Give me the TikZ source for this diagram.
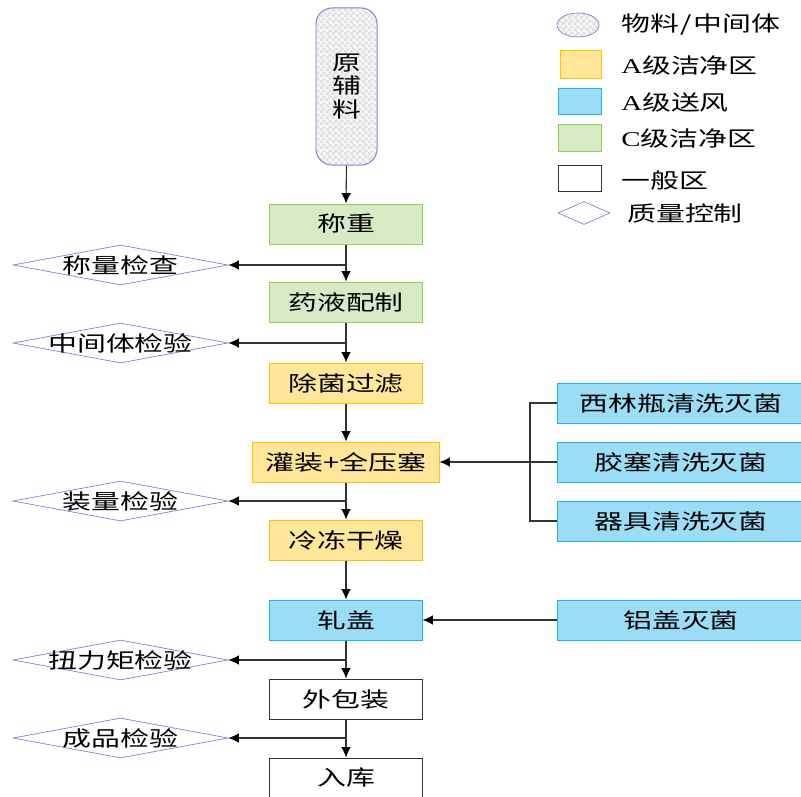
\documentclass[tikz,border=0pt]{standalone}
\usepackage{fontspec}
\setmainfont[FakeStretch=1.37]{Liberation Serif}
\newfontfamily\cjk[FakeStretch=1.37]{Noto Sans CJK SC}
\usetikzlibrary{arrows.meta,shapes.geometric,patterns}
\pgfdeclarepatternformonly{smallcheck}{\pgfpointorigin}{\pgfpoint{4pt}{4pt}}{\pgfpoint{4pt}{4pt}}{%
  \pgfpathrectangle{\pgfpointorigin}{\pgfpoint{2pt}{2pt}}%
  \pgfpathrectangle{\pgfpoint{2pt}{2pt}}{\pgfpoint{2pt}{2pt}}%
  \pgfusepath{fill}}
\definecolor{gF}{HTML}{D6EAC5}\definecolor{gB}{HTML}{92D050}
\definecolor{yF}{HTML}{FFE699}\definecolor{yB}{HTML}{FFC000}
\definecolor{bF}{HTML}{9BDDF6}\definecolor{bB}{HTML}{1CB5EC}
\definecolor{qc}{HTML}{8080E0}
\newcommand{\lat}{\rmfamily}
\newcommand{\dtext}[1]{\raisebox{-0.38em}[0pt][0pt]{#1}}
\begin{document}
\begin{tikzpicture}[x=0.025cm,y=-0.025cm,
  every node/.style={font=\cjk\fontsize{15}{17}\selectfont},
  box/.style={draw, rectangle, minimum width=3.8cm, minimum height=1cm, inner sep=0pt, line width=0.7pt},
  gbox/.style={box, fill=gF, draw=gB},
  ybox/.style={box, fill=yF, draw=yB},
  bbox/.style={box, fill=bF, draw=bB},
  wbox/.style={box, fill=white, draw=black!80},
  qbox/.style={diamond, draw=qc, line width=0.5pt, inner sep=0pt, shape aspect=5.375, minimum width=5.375cm, minimum height=1cm},
  conn/.style={draw=black!80, line width=0.8pt},
  arr/.style={conn, -{Latex[length=2.6mm,width=2.4mm,fill=black,color=black]}}
]
\useasboundingbox (0,0) rectangle (801,796);
\clip (0,0) rectangle (801,796);

% raw material
\node[draw=qc, line width=0.7pt, rounded corners=0.4cm, minimum width=1.525cm, minimum height=3.925cm,
  preaction={fill=gray!8}, pattern=smallcheck, pattern color=gray!25, align=center, inner sep=0pt]
  (raw) at (346.5,86.5) {原\\[-0.5pt]辅\\[-0.5pt]料};

% main column
\node[gbox] (s1) at (346,224) {称重};
\node[gbox] (s2) at (346,302) {药液配制};
\node[ybox] (s3) at (346,383) {除菌过滤};
\node[ybox, minimum width=4.65cm] (s4) at (346,462) {灌装+全压塞};
\node[ybox] (s5) at (346,540) {冷冻干燥};
\node[bbox] (s6) at (346,620) {轧盖};
\node[wbox] (s7) at (346,699) {外包装};
\node[wbox] (s8) at (346,778) {入库};

% quality control diamonds
\node[qbox] (d1) at (120.5,265) {\dtext{称量检查}};
\node[qbox] (d2) at (120.5,343) {\dtext{中间体检验}};
\node[qbox] (d3) at (120.5,501) {\dtext{装量检验}};
\node[qbox] (d4) at (120.5,660) {\dtext{扭力矩检验}};
\node[qbox] (d5) at (120.5,738) {\dtext{成品检验}};

% right side boxes
\node[bbox, minimum width=6.15cm] (r1) at (681,403) {西林瓶清洗灭菌};
\node[bbox, minimum width=6.15cm] (r2) at (681,462) {胶塞清洗灭菌};
\node[bbox, minimum width=6.15cm] (r3) at (681,521) {器具清洗灭菌};
\node[bbox, minimum width=6.15cm] (r4) at (681,620) {铝盖灭菌};
\coordinate (jn) at (530,462);

% connectors main
\draw[arr] (raw.south) -- (s1.north);
\draw[arr] (s1.south) -- (s2.north);
\draw[arr] (s2.south) -- (s3.north);
\draw[arr] (s3.south) -- (s4.north);
\draw[arr] (s4.south) -- (s5.north);
\draw[arr] (s5.south) -- (s6.north);
\draw[arr] (s6.south) -- (s7.north);
\draw[arr] (s7.south) -- (s8.north);

% branches to QC
\draw[arr] (s1.south |- d1.east) -- (d1.east);
\draw[arr] (s2.south |- d2.east) -- (d2.east);
\draw[arr] (s4.south |- d3.east) -- (d3.east);
\draw[arr] (s6.south |- d4.east) -- (d4.east);
\draw[arr] (s7.south |- d5.east) -- (d5.east);

% right side
\draw[conn] (r1.west) -| (jn) |- (r3.west);
\draw[arr] (r2.west) -- (s4.east);
\draw[arr] (r4.west) -- (s6.east);

% legend
\node[ellipse, draw=qc, line width=0.5pt, minimum width=1.05cm, minimum height=0.6cm, inner sep=0pt,
  preaction={fill=gray!8}, pattern=smallcheck, pattern color=gray!25] (l1) at (578,25) {};
\node[ybox, minimum width=1.025cm, minimum height=0.7cm] (l2) at (580.5,64) {};
\node[bbox, minimum width=1.075cm, minimum height=0.65cm] (l3) at (579.5,101) {};
\node[gbox, minimum width=1.075cm, minimum height=0.675cm] (l4) at (579.5,137.5) {};
\node[wbox, minimum width=1.075cm, minimum height=0.65cm] (l5) at (579.5,178) {};
\node[diamond, draw=qc, line width=0.5pt, inner sep=0pt, shape aspect=2.26, minimum width=1.3cm, minimum height=0.575cm] (l6) at (584,213) {};

\node[anchor=west, inner sep=0pt] (t1) at (621,25) {物料\kern1pt/\kern1pt 中间体};
\node[anchor=west, inner sep=0pt] (t2) at (621,65) {{\lat A}级洁净区};
\node[anchor=west, inner sep=0pt] (t3) at (621,102) {{\lat A}级送风};
\node[anchor=west, inner sep=0pt] (t4) at (621,138) {{\lat C}级洁净区};
\node[anchor=west, inner sep=0pt] (t5) at (621,180) {一般区};
\node[anchor=west, inner sep=0pt] (t6) at (627,213) {质量控制};
\end{tikzpicture}
\end{document}
